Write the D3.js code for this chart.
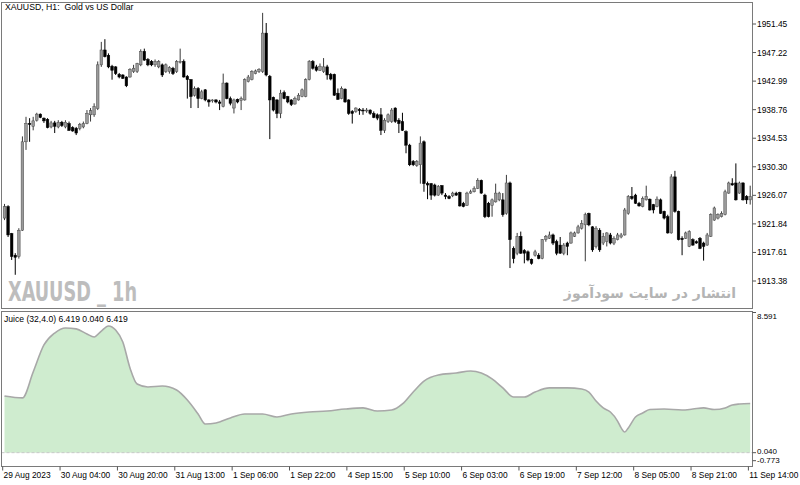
<!DOCTYPE html>
<html>
<head>
<meta charset="utf-8">
<script src="https://cdn.jsdelivr.net/npm/d3@7"></script>
<style>
  body { margin: 0; background: #fff; }
  svg { display: block; }
  text { font-family: 'Liberation Sans', Arial, sans-serif; fill: #000; }
</style>
</head>
<body>
<div id="chart"></div>
<script>
// XAUUSD H1 candles: [open, high, low, close]
const candles = [
  [1922.7,1924.8,1922.4,1924.4],[1924.4,1924.6,1919.9,1920.2],[1920.4,1920.5,1916.5,1917.0],[1917.2,1917.5,1914.3,1916.9],
  [1917.0,1921.2,1916.7,1920.9],[1920.9,1934.8,1920.8,1934.0],[1934.0,1937.7,1932.8,1936.7],[1936.7,1937.5,1934.0,1936.6],
  [1936.3,1937.7,1935.7,1937.1],[1937.2,1938.3,1937.0,1938.1],[1938.1,1938.2,1937.5,1937.6],[1937.5,1937.6,1936.8,1937.1],
  [1937.3,1937.5,1936.0,1936.1],[1936.2,1937.1,1936.0,1936.8],[1936.8,1937.1,1935.3,1936.3],[1936.2,1937.2,1936.0,1936.9],
  [1936.9,1937.1,1936.2,1936.4],[1936.2,1937.2,1936.0,1936.9],[1936.7,1937.0,1935.6,1935.7],[1936.1,1936.3,1935.5,1935.6],
  [1936.0,1936.2,1935.0,1935.3],[1936.0,1936.8,1935.7,1936.6],[1936.2,1937.0,1936.0,1936.7],[1936.7,1938.7,1936.6,1938.2],
  [1938.0,1939.0,1937.0,1938.6],[1938.0,1939.7,1937.7,1939.2],[1938.9,1945.9,1938.7,1945.4],[1945.4,1948.8,1945.1,1947.6],
  [1947.6,1949.2,1946.5,1946.6],[1946.8,1947.1,1944.9,1945.1],[1945.2,1945.4,1943.2,1944.6],[1945.1,1945.2,1943.9,1944.1],
  [1944.0,1944.2,1943.4,1943.6],[1943.9,1944.0,1943.3,1943.4],[1943.6,1943.7,1942.1,1942.3],[1943.6,1944.9,1943.5,1944.7],
  [1944.4,1945.4,1944.2,1944.9],[1944.4,1945.7,1944.2,1945.6],[1945.4,1947.7,1945.2,1947.4],[1947.4,1947.8,1946.0,1946.1],
  [1946.2,1946.4,1945.2,1945.4],[1945.9,1946.1,1945.2,1945.4],[1945.4,1946.2,1945.1,1945.9],[1945.1,1946.1,1944.9,1945.9],
  [1945.4,1945.6,1943.6,1943.9],[1944.4,1945.6,1944.2,1945.4],[1944.4,1945.2,1944.1,1945.0],[1944.9,1945.1,1943.9,1944.1],
  [1944.4,1946.1,1944.2,1945.9],[1945.8,1947.8,1945.6,1945.9],[1945.9,1946.2,1943.5,1943.6],[1943.7,1943.9,1940.4,1943.2],
  [1943.2,1943.3,1939.0,1940.7],[1940.9,1942.2,1940.7,1941.9],[1941.9,1942.1,1939.0,1940.4],[1940.4,1941.7,1940.3,1941.4],
  [1941.7,1941.8,1940.0,1940.2],[1940.2,1940.3,1939.2,1939.9],[1940.1,1940.3,1939.8,1940.2],[1940.2,1940.3,1939.7,1939.9],
  [1939.9,1940.2,1938.7,1939.7],[1939.2,1944.1,1939.1,1942.7],[1942.7,1942.8,1940.3,1940.4],[1940.4,1940.7,1939.4,1939.7],
  [1939.0,1940.4,1938.2,1940.2],[1940.3,1940.4,1939.7,1939.9],[1940.1,1940.7,1938.7,1940.4],[1940.2,1943.4,1940.1,1943.2],
  [1942.9,1943.9,1942.8,1943.6],[1943.2,1944.6,1943.1,1944.4],[1944.1,1944.7,1944.0,1944.5],[1944.4,1944.9,1944.2,1944.7],
  [1944.4,1953.1,1944.2,1950.1],[1950.1,1951.6,1943.7,1943.9],[1943.7,1943.9,1934.4,1940.2],[1940.6,1940.7,1938.5,1938.7],
  [1940.2,1940.3,1937.5,1938.2],[1938.2,1941.7,1937.5,1941.2],[1941.3,1941.6,1940.3,1940.4],[1940.7,1940.8,1939.7,1939.9],
  [1940.2,1940.3,1939.3,1939.5],[1939.6,1940.7,1939.5,1940.4],[1940.2,1941.2,1940.1,1940.9],[1940.7,1941.9,1940.6,1941.7],
  [1940.7,1943.4,1940.6,1943.2],[1943.2,1946.1,1943.1,1945.9],[1945.9,1946.1,1944.7,1944.9],[1945.1,1945.4,1944.4,1944.6],
  [1944.6,1945.6,1944.5,1945.2],[1944.4,1946.4,1944.2,1945.1],[1945.1,1945.4,1943.2,1943.9],[1944.0,1944.2,1943.1,1943.3],
  [1944.0,1944.1,1940.8,1940.9],[1941.2,1941.9,1940.2,1940.3],[1940.4,1942.2,1940.3,1941.9],[1941.8,1941.9,1939.8,1939.9],
  [1940.2,1940.3,1938.0,1938.2],[1938.5,1938.7,1936.7,1938.2],[1938.5,1939.1,1938.3,1939.0],[1938.8,1939.0,1938.0,1938.6],
  [1938.7,1939.0,1938.0,1938.6],[1938.6,1939.0,1938.3,1938.7],[1938.7,1938.8,1938.0,1938.2],[1938.2,1938.5,1937.5,1937.6],
  [1938.0,1938.2,1937.2,1937.5],[1938.0,1939.0,1935.0,1935.7],[1935.7,1937.5,1935.3,1937.2],[1937.0,1938.2,1936.8,1938.0],
  [1937.0,1939.0,1936.8,1938.7],[1939.0,1939.1,1936.8,1937.0],[1937.2,1937.5,1935.3,1936.7],[1937.0,1938.3,1935.6,1935.7],
  [1935.5,1935.7,1932.3,1933.5],[1933.5,1933.7,1930.4,1930.6],[1931.1,1931.3,1930.4,1930.6],[1930.5,1931.3,1930.3,1931.1],
  [1930.6,1934.8,1927.8,1933.8],[1934.0,1934.2,1926.6,1927.8],[1927.8,1928.1,1925.5,1927.6],[1927.8,1927.9,1925.4,1926.1],
  [1927.6,1927.8,1925.9,1926.1],[1926.1,1927.6,1926.0,1927.4],[1927.5,1927.6,1926.1,1926.4],[1926.1,1926.4,1925.5,1925.9],
  [1925.9,1926.1,1925.5,1925.6],[1926.0,1926.6,1925.8,1926.4],[1926.4,1926.6,1926.0,1926.1],[1926.5,1926.6,1924.4,1924.5],
  [1924.9,1925.1,1924.3,1924.4],[1924.6,1926.6,1924.5,1926.4],[1926.4,1926.9,1926.3,1926.6],[1926.6,1927.4,1926.5,1927.1],
  [1927.1,1928.6,1927.0,1928.3],[1928.3,1928.4,1926.3,1926.4],[1926.1,1926.3,1922.7,1922.9],[1924.9,1925.1,1922.8,1922.9],
  [1924.6,1925.6,1922.9,1925.4],[1925.1,1927.8,1925.0,1926.4],[1925.4,1926.6,1925.2,1926.4],[1925.4,1926.4,1922.9,1923.2],
  [1923.4,1929.1,1923.2,1927.9],[1927.9,1928.1,1915.3,1919.5],[1918.2,1918.5,1916.0,1916.7],[1917.5,1920.5,1917.2,1920.0],
  [1920.0,1920.7,1917.4,1917.5],[1917.9,1918.1,1916.0,1917.5],[1917.7,1917.9,1916.3,1916.5],[1916.6,1916.7,1915.8,1916.0],
  [1917.2,1918.0,1917.0,1917.7],[1917.2,1917.5,1916.6,1916.7],[1916.7,1919.6,1916.6,1919.5],[1919.5,1920.2,1919.2,1920.0],
  [1919.7,1920.7,1919.6,1920.2],[1920.2,1920.4,1918.7,1919.0],[1919.2,1919.5,1917.2,1917.5],[1918.7,1919.9,1917.4,1917.5],
  [1917.5,1919.0,1917.2,1918.7],[1919.0,1919.2,1917.2,1918.5],[1919.0,1920.7,1918.9,1920.5],[1920.0,1920.7,1919.9,1920.5],
  [1920.5,1921.7,1920.4,1921.4],[1921.2,1922.4,1921.0,1921.9],[1921.7,1923.5,1916.3,1923.2],[1923.4,1923.5,1921.5,1921.7],
  [1921.4,1921.5,1917.7,1918.0],[1918.5,1921.5,1918.2,1921.2],[1920.9,1921.2,1917.7,1918.0],[1919.0,1920.5,1918.7,1920.0],
  [1919.2,1920.6,1918.5,1920.5],[1920.2,1920.5,1918.8,1919.0],[1919.0,1920.0,1918.7,1919.7],[1919.5,1920.5,1919.4,1920.2],
  [1919.9,1920.5,1919.7,1920.2],[1920.2,1924.2,1920.1,1923.9],[1923.4,1926.1,1923.2,1925.9],[1925.9,1927.3,1925.4,1925.6],
  [1926.1,1926.3,1924.8,1924.9],[1924.9,1925.1,1924.4,1924.5],[1924.4,1925.9,1924.3,1925.6],[1925.4,1927.5,1925.3,1925.9],
  [1925.5,1925.6,1923.8,1923.9],[1924.7,1924.8,1923.4,1923.9],[1924.4,1925.9,1924.3,1925.5],[1925.4,1925.6,1923.3,1923.4],
  [1923.7,1923.8,1922.5,1922.7],[1922.9,1923.2,1920.4,1920.5],[1920.5,1929.2,1920.4,1928.8],[1928.8,1929.7,1923.5,1923.7],
  [1923.7,1923.8,1919.4,1919.5],[1919.7,1920.0,1917.2,1919.5],[1919.7,1920.7,1919.6,1920.5],[1918.5,1920.9,1918.4,1920.7],
  [1919.5,1919.7,1918.6,1918.7],[1919.2,1919.4,1918.9,1919.0],[1919.7,1919.9,1918.1,1918.2],[1919.0,1919.2,1916.4,1918.5],
  [1918.7,1920.5,1918.6,1920.2],[1920.0,1923.4,1919.9,1923.2],[1922.4,1924.4,1922.3,1924.2],[1922.7,1923.4,1922.5,1923.2],
  [1922.9,1923.7,1922.8,1923.4],[1923.2,1926.9,1923.1,1926.6],[1926.4,1928.1,1926.3,1927.9],[1927.8,1928.6,1927.5,1927.6],
  [1927.9,1930.8,1925.3,1925.4],[1926.4,1928.1,1926.3,1927.9],[1927.9,1928.0,1925.3,1925.4],[1925.9,1926.1,1924.8,1925.4],
  [1925.4,1927.5,1924.7,1925.9]
];

const priceTicks = [1951.45, 1947.22, 1942.99, 1938.76, 1934.53, 1930.30, 1926.07, 1921.84, 1917.61, 1913.38];

const timeLabels = ['29 Aug 2023', '30 Aug 04:00', '30 Aug 20:00', '31 Aug 13:00', '1 Sep 06:00', '1 Sep 22:00',
  '4 Sep 15:00', '5 Sep 10:00', '6 Sep 03:00', '6 Sep 19:00', '7 Sep 12:00', '8 Sep 05:00', '8 Sep 21:00', '11 Sep 14:00'];
const timeTickBars = [0, 16, 32, 48, 64, 80, 96, 112, 128, 144, 160, 176, 192, 208];

// Juice (32,4.0) read at some bars
const juiceBars = [0, 5, 8, 11, 14, 17, 20, 23, 25, 27, 29, 31, 33, 35, 37, 40, 44, 48, 51, 54, 56, 59, 63, 67, 72,
  76, 80, 85, 90, 95, 100, 104, 108, 111, 114, 117, 121, 126, 130, 133, 136, 139, 142, 145, 148, 152, 157, 161,
  163, 165, 167, 169, 171, 172, 173, 174, 176, 178, 180, 184, 189, 192, 195, 198, 201, 203, 205, 208];
const juiceValues = [3.50, 3.38, 4.96, 6.61, 7.34, 7.65, 7.59, 7.28, 7.10, 7.46, 7.77, 7.52, 6.79, 5.21, 4.23, 4.05,
  4.11, 3.86, 3.25, 2.40, 1.79, 1.85, 2.16, 2.40, 2.40, 2.22, 2.40, 2.52, 2.58, 2.70, 2.77, 2.58, 2.64, 3.01, 3.74,
  4.41, 4.78, 4.90, 5.02, 4.90, 4.54, 3.99, 3.44, 3.44, 3.74, 3.99, 3.99, 3.92, 3.74, 3.19, 2.77, 2.52, 1.97, 1.55,
  1.30, 1.55, 2.22, 2.46, 2.67, 2.70, 2.64, 2.70, 2.77, 2.67, 2.77, 2.95, 3.01, 3.04];
const juiceLevel = 0.040;
const juiceMin = -0.773;
const juiceMax = 8.591;

const width = 800;
const height = 485;
const frame = { left: 1.5, right: 752.5, top: 2.5, mainBottom: 308.5, subTop: 311.5, subBottom: 466.5 };
const smallFont = '8.4px';

const x = d3.scaleLinear().domain([0, candles.length - 1]).range([4.5, 750.2]);
const y = d3.scaleLinear().domain([1913.38, 1951.45]).range([281, 24]);
const yJ = d3.scaleLinear().domain([juiceMin, juiceMax]).range([466, 312.5]);

const svg = d3.select('#chart')
  .append('svg')
    .attr('width', width)
    .attr('height', height);

svg.append('rect').attr('width', width).attr('height', height).attr('fill', '#fff');

const defs = svg.append('defs');
defs.append('clipPath').attr('id', 'clip-main')
  .append('rect')
    .attr('x', frame.left).attr('y', frame.top)
    .attr('width', frame.right - frame.left).attr('height', frame.mainBottom - frame.top);
defs.append('clipPath').attr('id', 'clip-sub')
  .append('rect')
    .attr('x', frame.left).attr('y', frame.subTop)
    .attr('width', frame.right - frame.left).attr('height', frame.subBottom - frame.subTop);

// watermarks
svg.append('text')
  .attr('x', 8)
  .attr('y', 301)
  .attr('textLength', 129)
  .attr('lengthAdjust', 'spacingAndGlyphs')
  .style('font-family', "'DejaVu Sans Condensed', 'DejaVu Sans', sans-serif")
  .style('font-weight', 'bold')
  .style('font-size', '26px')
  .style('fill', '#bdbdbd')
  .text('XAUUSD _ 1h');

svg.append('text')
  .attr('x', 650)
  .attr('y', 298)
  .attr('text-anchor', 'middle')
  .style('font-family', "'DejaVu Sans', sans-serif")
  .style('font-weight', 'bold')
  .style('font-size', '14px')
  .style('fill', '#b4b4b4')
  .text('انتشار در سایت سودآموز');

// Candles
const main = svg.append('g').attr('clip-path', 'url(#clip-main)');
const bar = main.selectAll('.candle')
  .data(candles)
  .enter().append('g')
    .attr('class', 'candle');

bar.append('line')
  .attr('x1', (d, i) => x(i))
  .attr('x2', (d, i) => x(i))
  .attr('y1', d => y(d[1]))
  .attr('y2', d => y(d[2]))
  .attr('stroke', d => d[3] >= d[0] ? '#3a3a3a' : '#000')
  .attr('stroke-width', 1);

bar.append('rect')
  .attr('x', (d, i) => x(i) - 1.3)
  .attr('width', 2.6)
  .attr('y', d => y(Math.max(d[0], d[3])))
  .attr('height', d => Math.max(0.9, Math.abs(y(d[0]) - y(d[3]))))
  .attr('fill', d => d[3] >= d[0] ? '#9a9a9a' : '#000')
  .attr('stroke', d => d[3] >= d[0] ? '#4a4a4a' : '#000')
  .attr('stroke-width', 0.5);

// Juice panel
const sub = svg.append('g').attr('clip-path', 'url(#clip-sub)');
const juice = juiceBars.map((b, i) => ({ bar: b, value: juiceValues[i] }));

sub.append('path')
  .datum(juice)
  .attr('fill', '#cfeccf')
  .attr('d', d3.area()
    .x(d => x(d.bar))
    .y0(yJ(juiceLevel))
    .y1(d => yJ(d.value))
    .curve(d3.curveMonotoneX));

sub.append('line')
  .attr('x1', frame.left).attr('x2', frame.right)
  .attr('y1', yJ(juiceLevel)).attr('y2', yJ(juiceLevel))
  .attr('stroke', '#c8c8c8')
  .attr('stroke-dasharray', '3,2');

sub.append('path')
  .datum(juice)
  .attr('fill', 'none')
  .attr('stroke', '#a8a8a8')
  .attr('stroke-width', 1.6)
  .attr('d', d3.line()
    .x(d => x(d.bar))
    .y(d => yJ(d.value))
    .curve(d3.curveMonotoneX));

// frames
svg.append('rect')
  .attr('x', frame.left).attr('y', frame.top)
  .attr('width', frame.right - frame.left).attr('height', frame.mainBottom - frame.top)
  .attr('fill', 'none').attr('stroke', '#7a7a7a');
svg.append('rect')
  .attr('x', frame.left).attr('y', frame.subTop)
  .attr('width', frame.right - frame.left).attr('height', frame.subBottom - frame.subTop)
  .attr('fill', 'none').attr('stroke', '#7a7a7a');

// title + indicator label
svg.append('text')
  .attr('x', 5).attr('y', 10)
  .style('font-size', '8.7px')
  .style('white-space', 'pre')
  .text('XAUUSD, H1:  Gold vs US Dollar');

svg.append('text')
  .attr('x', 4).attr('y', 322)
  .style('font-size', '8.6px')
  .text(`Juice (32,4.0) 6.419 ${juiceLevel.toFixed(3)} 6.419`);

// price axis
const priceAxis = svg.append('g').attr('class', 'price axis');
priceAxis.selectAll('line')
  .data(priceTicks)
  .enter().append('line')
    .attr('x1', frame.right).attr('x2', frame.right + 3.5)
    .attr('y1', d => y(d)).attr('y2', d => y(d))
    .attr('stroke', '#555');
priceAxis.selectAll('text')
  .data(priceTicks)
  .enter().append('text')
    .attr('x', frame.right + 4.5)
    .attr('y', d => y(d) + 3)
    .style('font-size', smallFont)
    .text(d => d.toFixed(2));

// juice axis: the bottom label sits just under the level label, as in the terminal
const juiceAxis = svg.append('g').attr('class', 'juice axis');
const juiceTickY = [yJ(juiceMax), yJ(juiceLevel), yJ(juiceLevel) + 8];
const juiceLabelY = [yJ(juiceMax) + 6, yJ(juiceLevel) + 1.8, yJ(juiceLevel) + 10.5];
[juiceMax, juiceLevel, juiceMin].forEach((v, i) => {
  juiceAxis.append('line')
    .attr('x1', frame.right).attr('x2', frame.right + 3.5)
    .attr('y1', juiceTickY[i]).attr('y2', juiceTickY[i])
    .attr('stroke', '#555');
  juiceAxis.append('text')
    .attr('x', frame.right + 4.5)
    .attr('y', juiceLabelY[i])
    .style('font-size', '8px')
    .text(v.toFixed(3));
});

// time axis
const timeAxis = svg.append('g').attr('class', 'time axis');
timeAxis.selectAll('line')
  .data(timeTickBars)
  .enter().append('line')
    .attr('x1', d => x(d) - 1.8).attr('x2', d => x(d) - 1.8)
    .attr('y1', frame.subBottom).attr('y2', frame.subBottom + 4)
    .attr('stroke', '#555');
timeAxis.selectAll('text')
  .data(timeTickBars)
  .enter().append('text')
    .attr('x', d => x(d) - 1)
    .attr('y', 477.5)
    .style('font-size', smallFont)
    .text((d, i) => timeLabels[i]);
</script>
</body>
</html>
